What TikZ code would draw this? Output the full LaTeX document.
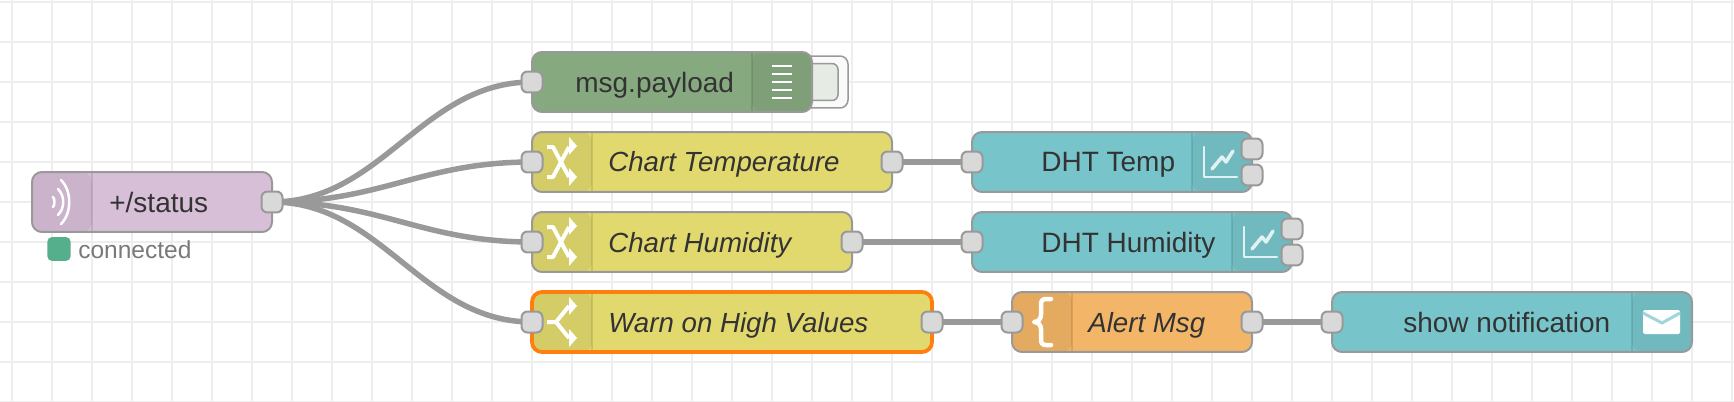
\documentclass[tikz,border=0pt]{standalone}
\usepackage{fontspec}
\setmainfont{Liberation Sans}
\usetikzlibrary{backgrounds}

\definecolor{gridgray}{HTML}{EEEEEE}
\definecolor{edgegray}{HTML}{999999}
\definecolor{portgray}{HTML}{D9D9D9}
\definecolor{wiregray}{HTML}{999999}
\definecolor{textgray}{HTML}{333333}
\definecolor{mqttfill}{HTML}{D8BFD8}
\definecolor{debugfill}{HTML}{87A980}
\definecolor{changefill}{HTML}{E2D96E}
\definecolor{uifill}{HTML}{77C5CB}
\definecolor{templatefill}{HTML}{F3B567}
\definecolor{warnline}{HTML}{FF7F0E}
\definecolor{dotgreen}{HTML}{55AE8C}
\definecolor{btnfill}{HTML}{E6EBE3}

\tikzset{
  shuffleicon/.pic={
    \draw[draw=white, line width=0.08cm, line join=round] (-15,-15) -- (-9,-15) -- (7,15);
    \draw[draw=white, line width=0.08cm, line join=round] (-15,15) -- (-9,15) -- (7,-15);
    \fill[white] (7,-25) -- (15,-16) -- (7,-7) -- cycle;
    \fill[white] (7,6) -- (15,15) -- (7,24) -- cycle;
  },
  switchicon/.pic={
    \draw[draw=white, line width=0.08cm, line join=round] (-15,0) -- (-6,0) -- (7,-16);
    \draw[draw=white, line width=0.08cm, line join=round] (-6,0) -- (7,16);
    \fill[white] (7,-25) -- (15,-16) -- (7,-7) -- cycle;
    \fill[white] (7,7) -- (15,16) -- (7,25) -- cycle;
  },
}

\begin{document}
\begin{tikzpicture}[
  x=0.02cm, y=-0.02cm,
  flowbox/.style={draw=edgegray, line width=0.04cm, rounded corners=0.2cm,
    minimum height=1.2cm, inner sep=0pt, outer sep=0pt},
  wd/.style={minimum width=#1*0.02cm},
  iconleft/.style={path picture={
    \fill[black, opacity=.06] (path picture bounding box.north west)
      rectangle ([xshift=#1*0.02cm]path picture bounding box.south west);
    \draw[black, opacity=.10, line width=0.03cm]
      ([xshift=#1*0.02cm]path picture bounding box.north west)
      -- ([xshift=#1*0.02cm]path picture bounding box.south west);}},
  iconright/.style={path picture={
    \fill[black, opacity=.06] (path picture bounding box.north east)
      rectangle ([xshift=-#1*0.02cm]path picture bounding box.south east);
    \draw[black, opacity=.10, line width=0.03cm]
      ([xshift=-#1*0.02cm]path picture bounding box.north east)
      -- ([xshift=-#1*0.02cm]path picture bounding box.south east);}},
  port/.style={draw=edgegray, fill=portgray, line width=0.04cm,
    rounded corners=0.12cm, minimum size=0.42cm, inner sep=0pt, outer sep=0pt},
  flowtext/.style={anchor=base west, inner sep=0pt, text=textgray,
    font=\fontsize{15.93}{18}\selectfont},
  italictext/.style={flowtext, font=\fontsize{15.75}{18}\selectfont\itshape},
  wire/.style={draw=wiregray, line width=0.11cm},
  gridline/.style={draw=gridgray, line width=0.04cm},
  icon/.style={draw=white, line cap=round, line join=round},
]
\useasboundingbox (0,0) rectangle (1734,402);

% ── canvas grid ─────────────────────────────────────────────────────────────
\begin{scope}[on background layer]
  \foreach \gx in {12,52,...,1732} \draw[gridline] (\gx,0) -- (\gx,402);
  \foreach \gy in {2,42,...,402} \draw[gridline] (0,\gy) -- (1734,\gy);
\end{scope}

% ── mqtt input and its status ───────────────────────────────────────────────
\node[flowbox, wd=240, fill=mqttfill, iconleft=60] (status) at (152,202) {};
\node[flowtext] (statustxt) at (109,212) {+/status};
\node[port] (statusout) at (status.east) {};
\node[rounded corners=0.1cm, fill=dotgreen, minimum width=0.47cm,
  minimum height=0.48cm, inner sep=0pt] (statusdot) at (59,249) {};
\node[flowtext, text=gray!95!black, font=\fontsize{13.95}{16}\selectfont]
  (statusnote) at (78,258) {connected};

% wave icon
\draw[icon, line width=0.05cm] (61,180) .. controls (72,191) and (72,213) .. (61,224);
\draw[icon, line width=0.05cm] (58,189) .. controls (65,196) and (65,208) .. (58,215);
\draw[icon, line width=0.05cm] (53,197) .. controls (55,199) and (55,205) .. (53,207);

% ── debug node with its button ──────────────────────────────────────────────
\node[draw=edgegray, fill=white!98!black, line width=0.03cm, rounded corners=0.16cm,
  minimum width=0.96cm, minimum height=1.04cm, inner sep=0pt] (btnouter) at (824,82) {};
\node[draw=edgegray, fill=btnfill, line width=0.03cm, rounded corners=0.12cm,
  minimum width=0.76cm, minimum height=0.74cm, inner sep=0pt] (btninner) at (819,82) {};
\node[flowbox, wd=280, fill=debugfill, iconright=60] (payload) at (672,82) {};
\node[flowtext] (payloadtxt) at (575,92) {msg.payload};
\node[port] (payloadin) at (payload.west) {};
\foreach \ly in {66,74,82,90,98}
  \draw[draw=white, line width=0.055cm] (772,\ly) -- (792,\ly);

% ── change nodes and switch ─────────────────────────────────────────────────
\node[flowbox, wd=360, fill=changefill, iconleft=60] (temp) at (712,162) {};
\node[italictext] (temptxt) at (608,172) {Chart Temperature};
\node[port] (tempin) at (temp.west) {};
\node[port] (tempout) at (temp.east) {};
\pic at (562,162) {shuffleicon};

\node[flowbox, wd=320, fill=changefill, iconleft=60] (hum) at (692,242) {};
\node[italictext] (humtxt) at (608,252) {Chart Humidity};
\node[port] (humin) at (hum.west) {};
\node[port] (humout) at (hum.east) {};
\pic at (562,242) {shuffleicon};

\node[flowbox, wd=400, fill=changefill, iconleft=60, draw=warnline,
  line width=0.075cm] (warn) at (732,322) {};
\node[italictext] (warntxt) at (608,332) {Warn on High Values};
\node[port] (warnin) at (warn.west) {};
\node[port] (warnout) at (warn.east) {};
\pic at (562,322) {switchicon};

% ── chart nodes ─────────────────────────────────────────────────────────────
\node[flowbox, wd=280, fill=uifill, iconright=60] (dhttemp) at (1112,162) {};
\node[flowtext] (dhttemptxt) at (1041,172) {DHT Temp};
\node[port] (dhttempin) at (dhttemp.west) {};
\node[port] (dhttempa) at (1252,149) {};
\node[port] (dhttempb) at (1252,175) {};
\draw[icon, opacity=.8, line width=0.05cm] (1204,147) -- (1204,177) -- (1237,177);
\draw[icon, opacity=.8, line width=0.07cm]
  (1212,169) -- (1222,157) -- (1226,162) -- (1233,151);

\node[flowbox, wd=320, fill=uifill, iconright=60] (dhthum) at (1132,242) {};
\node[flowtext] (dhthumtxt) at (1041,252) {DHT Humidity};
\node[port] (dhthumin) at (dhthum.west) {};
\node[port] (dhthuma) at (1292,229) {};
\node[port] (dhthumb) at (1292,255) {};
\draw[icon, opacity=.8, line width=0.05cm] (1244,227) -- (1244,257) -- (1277,257);
\draw[icon, opacity=.8, line width=0.07cm]
  (1252,249) -- (1262,237) -- (1266,242) -- (1273,231);

% ── template and notification ───────────────────────────────────────────────
\node[flowbox, wd=240, fill=templatefill, iconleft=60] (alert) at (1132,322) {};
\node[italictext] (alerttxt) at (1088,332) {Alert Msg};
\node[port] (alertin) at (alert.west) {};
\node[port] (alertout) at (alert.east) {};
\draw[icon, line width=0.09cm] (1051,299) -- (1046,299)
  .. controls (1042,299) and (1041,301) .. (1041,305) -- (1041,315)
  .. controls (1041,319) and (1038,322) .. (1034,322)
  .. controls (1038,322) and (1041,325) .. (1041,329) -- (1041,339)
  .. controls (1041,343) and (1042,345) .. (1046,345) -- (1051,345);

\node[flowbox, wd=360, fill=uifill, iconright=60] (notify) at (1512,322) {};
\node[flowtext] (notifytxt) at (1403,332) {show notification};
\node[port] (notifyin) at (notify.west) {};
\fill[white, rounded corners=0.03cm] (1643,310) rectangle (1680,334);
\draw[draw=uifill!70!white, line width=0.06cm, line join=round]
  (1643,313) -- (1662,323) -- (1680,313);

% ── wires ───────────────────────────────────────────────────────────────────
\begin{scope}[on background layer]
  \draw[wire] (statusout.center) .. controls +(110,0) and +(-110,0) .. (payloadin.center);
  \draw[wire] (statusout.center) .. controls +(110,0) and +(-110,0) .. (tempin.center);
  \draw[wire] (statusout.center) .. controls +(110,0) and +(-110,0) .. (humin.center);
  \draw[wire] (statusout.center) .. controls +(110,0) and +(-110,0) .. (warnin.center);
  \draw[wire] (tempout.center) -- (dhttempin.center);
  \draw[wire] (humout.center) -- (dhthumin.center);
  \draw[wire] (warnout.center) -- (alertin.center);
  \draw[wire] (alertout.center) -- (notifyin.center);
\end{scope}
\end{tikzpicture}
\end{document}
